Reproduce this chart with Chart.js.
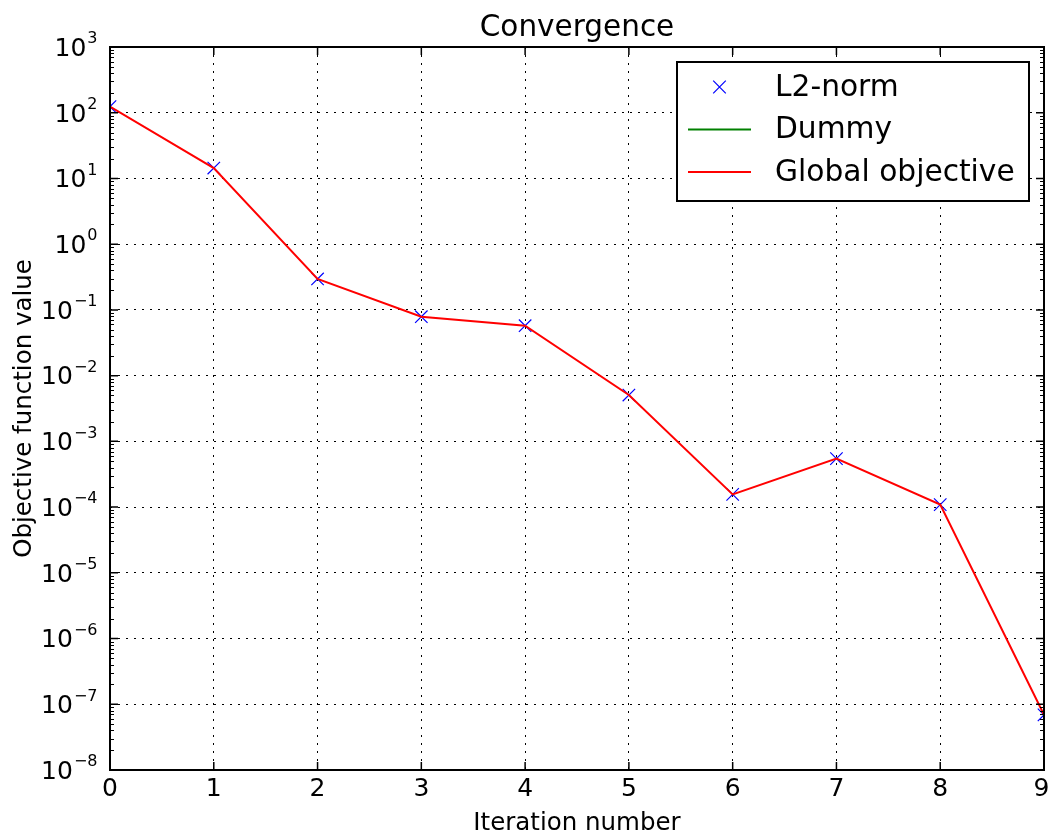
<!DOCTYPE html>
<html>
<head>
<meta charset="utf-8">
<title>Convergence</title>
<script src="https://cdn.jsdelivr.net/npm/chart.js@4/dist/chart.umd.min.js"></script>
<style>
    html, body { margin: 0; padding: 0; background: #fff; overflow: hidden; }
    #wrap { width: 1049px; height: 834px; position: relative; }
    #konvergenz { display: block; }
</style>
</head>
<body>
<div id="wrap"><canvas id="konvergenz"></canvas></div>
<script>
// --- Daten ---
const iterations = [0, 1, 2, 3, 4, 5, 6, 7, 8, 9];
const l2norm = [124, 14.4, 0.296, 0.0788, 0.0575, 0.00507, 1.56e-4, 5.46e-4, 1.09e-4, 6.9e-8];
const globalObjective = [124, 14.4, 0.296, 0.0788, 0.0575, 0.00507, 1.56e-4, 5.46e-4, 1.09e-4, 6.9e-8];
const dummy = [];
const yExponents = [3, 2, 1, 0, -1, -2, -3, -4, -5, -6, -7, -8];
const xTicks = [0, 1, 2, 3, 4, 5, 6, 7, 8, 9];

const FONT = "DejaVu Sans";
Chart.defaults.font.family = FONT;
Chart.defaults.color = "#000";

function punkte(werte) {
    return werte.map((v, i) => ({ x: iterations[i], y: v }));
}

// --- Rahmen, Ticks, Beschriftung, Legende ---
const achsenPlugin = {
    id: "achsen",
    afterDraw(chart) {
        const ctx = chart.ctx;
        const a = chart.chartArea;
        const xs = chart.scales.x;
        const ys = chart.scales.y;

        ctx.save();
        ctx.strokeStyle = "#000";

        // Major ticks (nach innen)
        ctx.lineWidth = 1.5;
        ctx.beginPath();
        xTicks.forEach(t => {
            const px = xs.getPixelForValue(t);
            ctx.moveTo(px, a.bottom); ctx.lineTo(px, a.bottom - 8);
            ctx.moveTo(px, a.top); ctx.lineTo(px, a.top + 8);
        });
        yExponents.forEach(e => {
            const py = ys.getPixelForValue(Math.pow(10, e));
            ctx.moveTo(a.left, py); ctx.lineTo(a.left + 8, py);
            ctx.moveTo(a.right, py); ctx.lineTo(a.right - 8, py);
        });
        ctx.stroke();

        // Minor ticks auf der log-Achse
        ctx.lineWidth = 1;
        ctx.beginPath();
        yExponents.forEach(e => {
            if (e === 3) return;
            for (let k = 2; k <= 9; k++) {
                const py = Math.round(ys.getPixelForValue(k * Math.pow(10, e))) + 0.5;
                ctx.moveTo(a.left, py); ctx.lineTo(a.left + 4, py);
                ctx.moveTo(a.right, py); ctx.lineTo(a.right - 4, py);
            }
        });
        ctx.stroke();

        // Rahmen
        ctx.lineWidth = 2;
        ctx.strokeRect(a.left, a.top, a.right - a.left, a.bottom - a.top);

        // x-Tick-Beschriftung
        ctx.fillStyle = "#000";
        ctx.font = "25px '" + FONT + "'";
        ctx.textAlign = "center";
        ctx.textBaseline = "alphabetic";
        xTicks.forEach(t => {
            const px = Math.min(xs.getPixelForValue(t), chart.width - 7.5);
            ctx.fillText(String(t), px, a.bottom + 25.5);
        });

        // y-Tick-Beschriftung 10^n
        ctx.textAlign = "left";
        const rechts = a.left - 12.5;
        yExponents.forEach(e => {
            const py = ys.getPixelForValue(Math.pow(10, e));
            const sup = e < 0 ? "\u2212" + Math.abs(e) : String(e);
            ctx.font = "16px '" + FONT + "'";
            const wSup = ctx.measureText(sup).width;
            ctx.fillText(sup, rechts - wSup, py - 3.7);
            ctx.font = "25px '" + FONT + "'";
            const wBase = ctx.measureText("10").width;
            ctx.fillText("10", rechts - wSup - 1 - wBase, py + 8.8);
        });

        // Legende
        const box = { x: 677, y: 62, w: 352, h: 139 };
        ctx.fillStyle = "#fff";
        ctx.fillRect(box.x, box.y, box.w, box.h);
        ctx.lineWidth = 2;
        ctx.strokeStyle = "#000";
        ctx.strokeRect(box.x, box.y, box.w, box.h);

        ctx.font = "29.7px '" + FONT + "'";
        ctx.textBaseline = "middle";
        chart.data.datasets.forEach((ds, i) => {
            const y = box.y + 25 + i * 42.5;
            if (ds.showLine === false) {
                const r = 6.3;
                const cx = 719.5;
                ctx.strokeStyle = ds.pointBorderColor;
                ctx.lineWidth = 1.2;
                ctx.beginPath();
                ctx.moveTo(cx - r, y - r); ctx.lineTo(cx + r, y + r);
                ctx.moveTo(cx - r, y + r); ctx.lineTo(cx + r, y - r);
                ctx.stroke();
            } else {
                ctx.strokeStyle = ds.borderColor;
                ctx.lineWidth = 2;
                ctx.beginPath();
                ctx.moveTo(688, y); ctx.lineTo(751, y);
                ctx.stroke();
            }
            ctx.fillStyle = "#000";
            ctx.fillText(ds.label, 775, y + 1);
        });
        ctx.restore();
    }
};

const chart = new Chart(document.getElementById("konvergenz"), {
    type: "line",
    data: {
        datasets: [
            {
                label: "L2-norm",
                data: punkte(l2norm),
                showLine: false,
                pointStyle: "crossRot",
                pointRadius: 8.8,
                pointHoverRadius: 8.8,
                pointBorderColor: "#0000ff",
                pointBackgroundColor: "#0000ff",
                pointBorderWidth: 1.2,
                borderColor: "#0000ff",
                clip: 0,
                order: 3
            },
            {
                label: "Dummy",
                data: dummy,
                borderColor: "#008000",
                borderWidth: 2,
                pointRadius: 0,
                clip: 0,
                order: 2
            },
            {
                label: "Global objective",
                data: punkte(globalObjective),
                borderColor: "#ff0000",
                borderWidth: 2,
                pointRadius: 0,
                tension: 0,
                fill: false,
                clip: 0,
                order: 1
            }
        ]
    },
    options: {
        responsive: true,
        maintainAspectRatio: false,
        animation: false,
        events: [],
        layout: { autoPadding: false, padding: { left: 0, right: 5, top: 0, bottom: 0 } },
        plugins: {
            legend: { display: false },
            tooltip: { enabled: false },
            title: {
                display: true,
                text: "Convergence",
                fullSize: false,
                color: "#000",
                font: { size: 29.5, weight: "normal", lineHeight: 1.2 },
                padding: { top: 11, bottom: 0.6 }
            }
        },
        scales: {
            x: {
                type: "linear",
                min: 0,
                max: 9,
                afterFit: s => { s.height = 64; s.paddingLeft = 0; s.paddingRight = 0; },
                afterBuildTicks: s => { s.ticks = xTicks.map(v => ({ value: v })); },
                ticks: { display: false },
                grid: { color: "#000", lineWidth: 1, drawTicks: false },
                border: { display: false, dash: [2, 6] },
                title: {
                    display: true,
                    text: "Iteration number",
                    color: "#000",
                    font: { size: 24.5, lineHeight: 1 },
                    padding: { top: 0, bottom: -2 }
                }
            },
            y: {
                type: "logarithmic",
                min: 1e-8,
                max: 1e3,
                afterFit: s => { s.width = 110; s.paddingTop = 0; s.paddingBottom = 0; },
                afterBuildTicks: s => { s.ticks = yExponents.map(e => ({ value: Math.pow(10, e) })); },
                ticks: { display: false },
                grid: { color: "#000", lineWidth: 1, drawTicks: false },
                border: { display: false, dash: [2, 6] },
                title: {
                    display: true,
                    text: "Objective function value",
                    color: "#000",
                    font: { size: 24.5, lineHeight: 1.2 },
                    padding: { top: 10, bottom: 0 }
                }
            }
        }
    },
    plugins: [achsenPlugin]
});
</script>
</body>
</html>
